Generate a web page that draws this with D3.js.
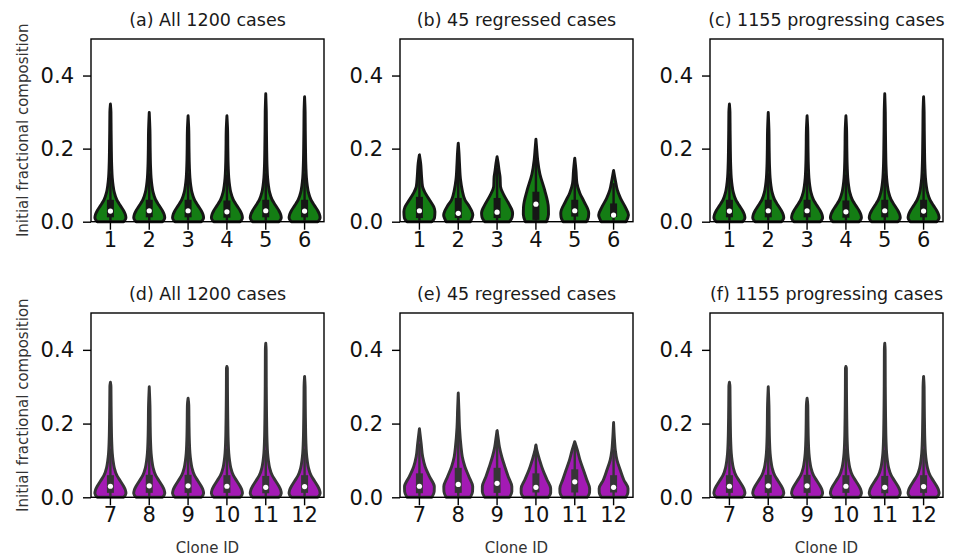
<!DOCTYPE html>
<html>
<head>
<meta charset="utf-8">
<script src="https://cdn.jsdelivr.net/npm/d3@7"></script>
<style>
  html, body { margin: 0; padding: 0; background: #fff; }
  svg { display: block; font-family: "DejaVu Sans", sans-serif; }
</style>
</head>
<body>
<svg id="chart" width="960" height="559"></svg>
<script>
// ---------------- data ----------------
const clonesTop = ["1", "2", "3", "4", "5", "6"];
const clonesBottom = ["7", "8", "9", "10", "11", "12"];
const yTicks = [0.0, 0.2, 0.4];
const titles = [
  "(a) All 1200 cases", "(b) 45 regressed cases", "(c) 1155 progressing cases",
  "(d) All 1200 cases", "(e) 45 regressed cases", "(f) 1155 progressing cases"
];
const yLabel = "Initial fractional composition";
const xLabel = "Clone ID";

// width profile ([value, relative half-width]) of the large-sample violins
const profileAll = [[0, 0.85], [0.01, 1.0], [0.02, 0.96], [0.03, 0.85], [0.04, 0.7],
  [0.05, 0.55], [0.06, 0.41], [0.08, 0.25], [0.10, 0.17], [0.12, 0.12], [0.15, 0.085],
  [0.20, 0.06], [0.25, 0.045], [0.30, 0.035], [0.35, 0.03], [0.40, 0.025]];

// panel (a) all 1200, clones 1-6
const maxA = [0.322, 0.299, 0.290, 0.290, 0.350, 0.342];
const q1A = [0.012, 0.012, 0.012, 0.011, 0.012, 0.012];
const medA = [0.029, 0.030, 0.030, 0.027, 0.030, 0.029];
const q3A = [0.060, 0.060, 0.060, 0.058, 0.060, 0.060];

// panel (c) 1155 progressing, clones 1-6
const maxC = [0.322, 0.299, 0.290, 0.290, 0.350, 0.342];
const q1C = [0.012, 0.012, 0.012, 0.011, 0.012, 0.012];
const medC = [0.029, 0.030, 0.030, 0.027, 0.030, 0.029];
const q3C = [0.060, 0.060, 0.060, 0.058, 0.060, 0.060];

// panel (b) 45 regressed, clones 1-6
const shapesB = [
  [[0, 0.8], [0.01, 0.97], [0.027, 1.0], [0.04, 0.93], [0.055, 0.72], [0.078, 0.38], [0.096, 0.2], [0.123, 0.14], [0.16, 0.08], [0.183, 0]],
  [[0, 0.78], [0.018, 0.94], [0.03, 0.86], [0.041, 0.72], [0.06, 0.43], [0.087, 0.25], [0.114, 0.15], [0.16, 0.08], [0.19, 0.045], [0.215, 0]],
  [[0, 0.8], [0.012, 0.97], [0.024, 1.0], [0.05, 0.74], [0.073, 0.44], [0.096, 0.22], [0.123, 0.19], [0.14, 0.13], [0.16, 0.07], [0.178, 0]],
  [[0, 0.68], [0.02, 0.81], [0.04, 0.8], [0.087, 0.56], [0.13, 0.26], [0.17, 0.11], [0.2, 0.05], [0.226, 0]],
  [[0, 0.75], [0.012, 0.88], [0.024, 0.9], [0.055, 0.6], [0.078, 0.33], [0.105, 0.14], [0.14, 0.08], [0.174, 0]],
  [[0, 0.8], [0.018, 0.96], [0.041, 0.74], [0.064, 0.45], [0.087, 0.24], [0.114, 0.11], [0.14, 0]]
];
const q1B = [0.010, 0.010, 0.010, 0.005, 0.014, 0.013];
const medB = [0.030, 0.023, 0.026, 0.048, 0.030, 0.018];
const q3B = [0.068, 0.065, 0.065, 0.082, 0.060, 0.050];

// panel (d) all 1200, clones 7-12
const maxD = [0.312, 0.300, 0.269, 0.355, 0.418, 0.328];
const q1D = [0.012, 0.012, 0.012, 0.012, 0.011, 0.012];
const medD = [0.030, 0.031, 0.031, 0.030, 0.027, 0.029];
const q3D = [0.060, 0.061, 0.061, 0.060, 0.058, 0.060];

// panel (f) 1155 progressing, clones 7-12
const maxF = [0.312, 0.300, 0.269, 0.355, 0.418, 0.328];
const q1F = [0.012, 0.012, 0.012, 0.012, 0.011, 0.012];
const medF = [0.030, 0.031, 0.031, 0.030, 0.027, 0.029];
const q3F = [0.060, 0.061, 0.061, 0.060, 0.058, 0.060];

// panel (e) 45 regressed, clones 7-12
const shapesE = [
  [[0, 0.8], [0.015, 0.95], [0.029, 0.96], [0.056, 0.65], [0.083, 0.37], [0.11, 0.21], [0.147, 0.11], [0.186, 0]],
  [[0, 0.78], [0.015, 0.92], [0.029, 0.93], [0.056, 0.69], [0.083, 0.43], [0.11, 0.26], [0.137, 0.18], [0.19, 0.08], [0.24, 0.04], [0.283, 0]],
  [[0, 0.8], [0.015, 0.95], [0.029, 0.95], [0.056, 0.72], [0.083, 0.5], [0.11, 0.3], [0.137, 0.15], [0.164, 0.06], [0.181, 0]],
  [[0, 0.8], [0.012, 0.95], [0.024, 0.95], [0.047, 0.72], [0.074, 0.45], [0.101, 0.24], [0.128, 0.06], [0.142, 0]],
  [[0, 0.8], [0.012, 0.95], [0.024, 0.96], [0.047, 0.78], [0.074, 0.56], [0.101, 0.34], [0.128, 0.17], [0.151, 0]],
  [[0, 0.78], [0.012, 0.92], [0.024, 0.93], [0.047, 0.66], [0.074, 0.43], [0.101, 0.22], [0.128, 0.11], [0.155, 0.06], [0.203, 0]]
];
const q1E = [0.011, 0.012, 0.012, 0.013, 0.013, 0.013];
const medE = [0.030, 0.035, 0.038, 0.027, 0.042, 0.027];
const q3E = [0.065, 0.080, 0.080, 0.065, 0.076, 0.060];

// ---------------- helpers ----------------
function profileTo(max) {
  const pts = profileAll.filter(p => p[0] < max).map(p => p.slice());
  pts.push([max, 0]);
  return pts;
}
function buildViolins(clones, shapes, q1, med, q3) {
  return clones.map((c, i) => {
    const shape = shapes[i];
    const max = shape[shape.length - 1][0];
    const iqr = q3[i] - q1[i];
    return {
      clone: c, shape: shape, q1: q1[i], med: med[i], q3: q3[i],
      whiskLo: Math.max(0, q1[i] - 1.5 * iqr), whiskHi: Math.min(max, q3[i] + 1.5 * iqr)
    };
  });
}

const panels = [
  { title: titles[0], col: 0, row: 0, violins: buildViolins(clonesTop, maxA.map(profileTo), q1A, medA, q3A) },
  { title: titles[1], col: 1, row: 0, violins: buildViolins(clonesTop, shapesB, q1B, medB, q3B) },
  { title: titles[2], col: 2, row: 0, violins: buildViolins(clonesTop, maxC.map(profileTo), q1C, medC, q3C) },
  { title: titles[3], col: 0, row: 1, violins: buildViolins(clonesBottom, maxD.map(profileTo), q1D, medD, q3D) },
  { title: titles[4], col: 1, row: 1, violins: buildViolins(clonesBottom, shapesE, q1E, medE, q3E) },
  { title: titles[5], col: 2, row: 1, violins: buildViolins(clonesBottom, maxF.map(profileTo), q1F, medF, q3F) }
];

// ---------------- layout & style ----------------
const colLeft = [91, 400, 710];
const panelW = 233;
const rowTop = [39, 313];
const rowBottom = [221.7, 497.3];
const fills = ["#147d14", "#a31ab4"];
const lines = ["#161616", "#363636"];

const svg = d3.select("#chart");

panels.forEach(p => {
  const left = colLeft[p.col], right = left + panelW;
  const top = rowTop[p.row], bottom = rowBottom[p.row];
  const clones = p.violins.map(v => v.clone);
  const x = d3.scaleBand().domain(clones).range([left, right]);
  const y = d3.scaleLinear().domain([0, 0.5]).range([bottom, top]);
  const hw = x.bandwidth() * 0.4;
  const g = svg.append("g");

  // violins
  p.violins.forEach(v => {
    const cx = x(v.clone) + x.bandwidth() / 2;
    const area = d3.area()
      .curve(d3.curveMonotoneY)
      .y(d => y(d[0]))
      .x0(d => cx - d[1] * hw)
      .x1(d => cx + d[1] * hw);
    g.append("path")
      .attr("d", area(v.shape))
      .attr("fill", fills[p.row])
      .attr("stroke", lines[p.row])
      .attr("stroke-width", 2.9)
      .attr("stroke-linejoin", "round");
    // whisker
    g.append("line")
      .attr("x1", cx).attr("x2", cx)
      .attr("y1", y(v.whiskLo)).attr("y2", y(v.whiskHi))
      .attr("stroke", lines[p.row]).attr("stroke-width", 2.4);
    // box
    g.append("line")
      .attr("x1", cx).attr("x2", cx)
      .attr("y1", y(v.q1)).attr("y2", y(v.q3))
      .attr("stroke", lines[p.row]).attr("stroke-width", 7);
    // median
    g.append("circle")
      .attr("cx", cx).attr("cy", y(v.med)).attr("r", 2.6)
      .attr("fill", "#fff");
  });

  // frame
  g.append("rect")
    .attr("x", left).attr("y", top)
    .attr("width", panelW).attr("height", bottom - top)
    .attr("fill", "none").attr("stroke", "#000").attr("stroke-width", 1.4);

  // axes
  const ya = g.append("g").attr("transform", `translate(${left},0)`)
    .call(d3.axisLeft(y).tickValues(yTicks).tickFormat(d3.format(".1f")).tickSize(8).tickPadding(9));
  const xa = g.append("g").attr("transform", `translate(0,${bottom})`)
    .call(d3.axisBottom(x).tickSize(8).tickPadding(2));
  [ya, xa].forEach(a => {
    a.select(".domain").remove();
    a.selectAll(".tick line").attr("stroke", "#000").attr("stroke-width", 1.4);
    a.selectAll(".tick text").attr("fill", "#111")
      .style("font-family", "'DejaVu Sans', sans-serif").style("font-size", "21px");
  });

  // title
  g.append("text")
    .attr("x", (left + right) / 2).attr("y", top - 13)
    .attr("text-anchor", "middle")
    .style("font-size", "17.5px").attr("fill", "#1a1a1a")
    .text(p.title);

  if (p.col === 0) {
    g.append("text")
      .attr("transform", `translate(28,${(top + bottom) / 2}) rotate(-90)`)
      .attr("text-anchor", "middle")
      .style("font-size", "15px").attr("fill", "#333")
      .text(yLabel);
  }
  if (p.row === 1) {
    g.append("text")
      .attr("x", (left + right) / 2).attr("y", 553)
      .attr("text-anchor", "middle")
      .style("font-size", "15px").attr("fill", "#333")
      .text(xLabel);
  }
});
</script>
</body>
</html>
